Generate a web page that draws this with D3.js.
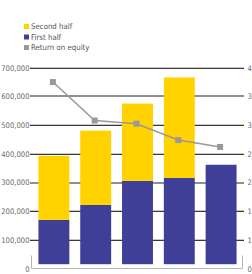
<!DOCTYPE html>
<html lang="en">
<head>
<meta charset="UTF-8">
<title>Revenue and ROE</title>
<script src="https://cdn.jsdelivr.net/npm/d3@7"></script>
<style>
  body { margin: 0; background: #fff; }
  text { font-family: "DejaVu Sans Condensed", "DejaVu Sans", sans-serif; }
</style>
</head>
<body>
<script>
    var width = 252, height = 274;

    // data
    var years = ["FY1", "FY2", "FY3", "FY4", "FY5"];
    var firstHalf = [170000, 222000, 306000, 316000, 362000];
    var secondHalf = [223000, 259000, 269000, 350000, 0];
    var roe = [6.5, 5.16, 5.05, 4.48, 4.24];          // in right-axis units
    var leftTicks = [0, 100000, 200000, 300000, 400000, 500000, 600000, 700000];
    var rightTicks = [0, 1, 2, 3, 4, 5, 6, 7];
    var rightTickLabels = ["0", "1", "1", "2", "2", "3", "3", "4"]; // cut off at the edge
    var legendItems = ["Second half", "First half", "Return on equity"];

    var svg = d3.select("body").append("svg")
        .attr("width", width)
        .attr("height", height);

    var y = d3.scaleLinear().domain([0, 700000]).range([268.7, 67.7]);
    var yR = d3.scaleLinear().domain([0, 7]).range([268.7, 67.7]);
    var x = d3.scaleBand().domain(years).range([33, 242])
        .paddingInner(0.26).paddingOuter(0.13);

    // gridlines: every third line lighter and thicker
    var grid = svg.append("g");
    leftTicks.slice(1).forEach(function (t) {
        var gy = Math.round(y(t));
        var light = (t === 300000 || t === 600000);
        if (light) {
            grid.append("line").attr("x1", 30).attr("x2", 244)
                .attr("y1", gy).attr("y2", gy)
                .attr("stroke", "#8f8f8f").attr("stroke-width", 2);
        } else {
            grid.append("line").attr("x1", 30).attr("x2", 244)
                .attr("y1", gy - 0.5).attr("y2", gy - 0.5)
                .attr("stroke", "#c8c8c8").attr("stroke-width", 1);
            grid.append("line").attr("x1", 30).attr("x2", 244)
                .attr("y1", gy + 0.5).attr("y2", gy + 0.5)
                .attr("stroke", "#3a3a3a").attr("stroke-width", 1);
        }
    });

    // left axis labels
    svg.append("g").selectAll("text")
        .data(leftTicks)
        .enter().append("text")
        .attr("x", 29.5)
        .attr("y", function (d) { return y(d) + 2.8; })
        .attr("text-anchor", "end")
        .attr("font-size", 7.6)
        .attr("fill", "#6a6a6a")
        .text(function (d) { return d3.format(",")(d); });

    // right axis labels
    svg.append("g").selectAll("text")
        .data(rightTicks)
        .enter().append("text")
        .attr("x", 247.5)
        .attr("y", function (d) { return yR(d) + 2.8; })
        .attr("font-size", 7.6)
        .attr("fill", "#6a6a6a")
        .text(function (d, i) { return rightTickLabels[i]; });

    // bottom bracket
    var b0 = Math.round(y(0)) - 0.5;
    svg.append("path")
        .attr("d", "M31.5," + (b0 - 13) + "V" + b0 + "H242.5V" + (b0 - 13))
        .attr("fill", "none")
        .attr("stroke", "#b5b5b5")
        .attr("stroke-width", 1);

    var base = y(0) - 4.5;

    // first half bars
    svg.append("g").selectAll("rect")
        .data(years)
        .enter().append("rect")
        .attr("x", function (d) { return x(d); })
        .attr("width", x.bandwidth())
        .attr("y", function (d, i) { return y(firstHalf[i]); })
        .attr("height", function (d, i) { return base - y(firstHalf[i]); })
        .attr("fill", "#3f3f98");

    // second half bars stacked on top
    svg.append("g").selectAll("rect")
        .data(years.filter(function (d, i) { return secondHalf[i] > 0; }))
        .enter().append("rect")
        .attr("x", function (d) { return x(d); })
        .attr("width", x.bandwidth())
        .attr("y", function (d, i) { return y(firstHalf[i] + secondHalf[i]); })
        .attr("height", function (d, i) { return y(firstHalf[i]) - y(firstHalf[i] + secondHalf[i]); })
        .attr("fill", "#ffd200");

    // ROE line
    var line = d3.line()
        .x(function (d, i) { return x(years[i]) + x.bandwidth() / 2 - 1; })
        .y(function (d) { return yR(d); });
    svg.append("path")
        .datum(roe)
        .attr("d", line)
        .attr("fill", "none")
        .attr("stroke", "#999")
        .attr("stroke-width", 1.5);
    svg.append("g").selectAll("rect")
        .data(roe)
        .enter().append("rect")
        .attr("x", function (d, i) { return x(years[i]) + x.bandwidth() / 2 - 4; })
        .attr("y", function (d) { return yR(d) - 3; })
        .attr("width", 6)
        .attr("height", 6)
        .attr("fill", "#999");

    // legend
    var legendColors = ["#ffd200", "#3f3f98", "#999"];
    var lg = svg.append("g").selectAll("g")
        .data(legendItems)
        .enter().append("g")
        .attr("transform", function (d, i) { return "translate(24," + (24 + i * 10.5) + ")"; });
    lg.append("rect")
        .attr("width", 5).attr("height", 5)
        .attr("fill", function (d, i) { return legendColors[i]; });
    lg.append("text")
        .attr("x", 7)
        .attr("y", 5.2)
        .attr("font-size", 7.8)
        .attr("fill", "#555")
        .text(function (d) { return d; });
</script>
</body>
</html>
